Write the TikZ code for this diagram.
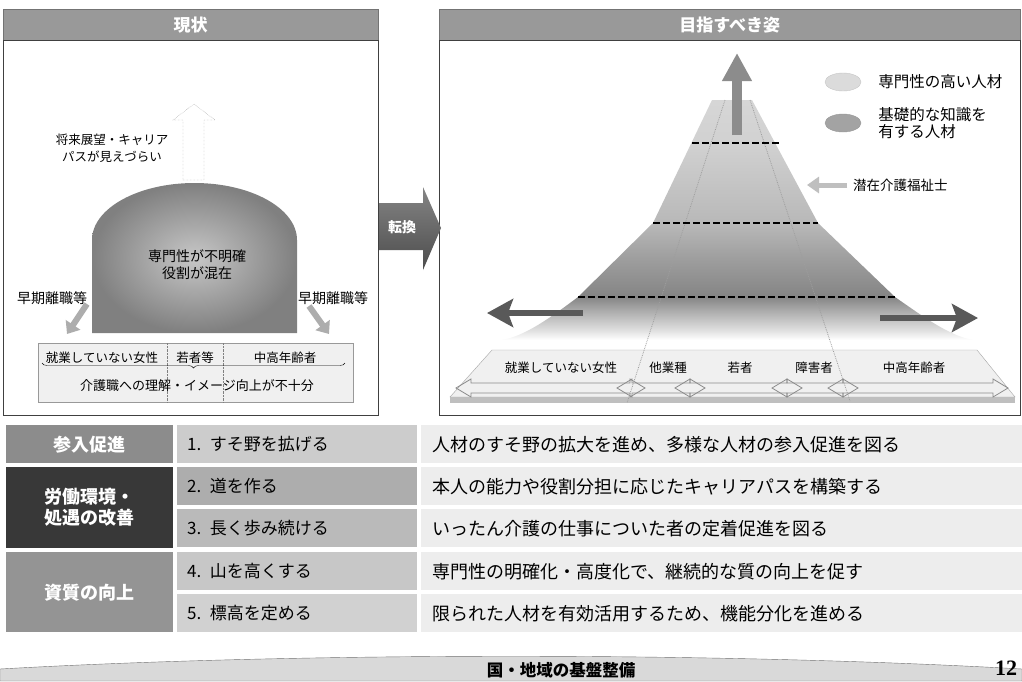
\documentclass[tikz,border=0pt]{standalone}
\usepackage{fontspec}
\setmainfont{Noto Sans CJK JP}
\newfontfamily\pagenumfont{Liberation Serif}
\usetikzlibrary{positioning,shapes.geometric,decorations.pathreplacing,arrows.meta}

\newcommand{\jsize}[2]{\fontsize{#1}{#2}\selectfont}

\pgfdeclareverticalshading{mountain}{100bp}{color(0bp)=(white); color(25bp)=(white); color(27bp)=(black!12); color(31bp)=(black!32); color(34bp)=(black!48); color(42bp)=(black!38); color(49bp)=(black!28); color(66bp)=(black!18); color(75bp)=(black!16); color(100bp)=(black!16)}

\begin{document}
\begin{tikzpicture}[x=1pt,y=-1pt,
  headbar/.style={draw=black!55,fill=black!40,text=white,inner sep=0,font=\jsize{17}{17}\bfseries},
  panel/.style={draw=black!75,line width=1},
  txt/.style={inner sep=0,font=\jsize{12.5}{17}},
  bigtxt/.style={inner sep=0,align=center,font=\jsize{14}{17}},
  quitarrow/.style={line width=6,black!32,-{Triangle[length=11,width=17]}},
  dashline/.style={line width=2.2,dash pattern=on 7 off 3},
  lane/.style={black!38,densely dotted,line width=0.8},
  lanearrow/.style={draw=black!45,line width=0.8},
  catcell/.style={anchor=north west,inner sep=0,minimum width=167,text=white,align=center,font=\jsize{18}{21}\bfseries},
  itemcell/.style={anchor=north west,inner xsep=10,inner ysep=0,text width=220,minimum height=38,align=left,font=\jsize{17}{17}},
  aimtxt/.style={anchor=west,inner sep=0,font=\jsize{18}{18}}
]
\useasboundingbox (0,0) rectangle (1022,681);
\fill[white] (0,0) rectangle (1022,681);

\node[headbar,minimum width=375,minimum height=31,anchor=north west] (nowhead) at (3,9) {現状};
\node[headbar,minimum width=581,minimum height=31,anchor=north west] (goalhead) at (439,9) {目指すべき姿};
\draw[panel] (3,40) rectangle (378,415);
\draw[panel] (439,40) rectangle (1020,415);

\draw[densely dotted,black!45,fill=white] (183,180) -- (183,120) -- (173,120) -- (194,104) -- (215,120) -- (204,120) -- (204,180) -- cycle;
\node[txt,align=center] (vision) at (112,148) {将来展望・キャリア\\パスが見えづらい};

\shade[inner color=black!22,outer color=black!50] (92,240) .. controls (92,208.5) and (137.9,183) .. (194.5,183) .. controls (251.1,183) and (297,208.5) .. (297,240) -- (297,333) -- (92,333) -- cycle;
\node[bigtxt] (dome) at (197,265) {専門性が不明確\\役割が混在};

\node[txt,font=\jsize{14}{14}] (quitl) at (52,298) {早期離職等};
\node[txt,font=\jsize{14}{14}] (quitr) at (333,298) {早期離職等};
\draw[quitarrow] (87,304) -- (67,334);
\draw[quitarrow] (309,306) -- (329,334);

\draw[draw=black!40,fill=black!6] (38,343) rectangle (353,402);
\draw[densely dotted,black!50] (167,343) -- (167,402) (223,343) -- (223,402);
\node[txt] (women) at (102,358) {就業していない女性};
\node[txt] (youth) at (195,358) {若者等};
\node[txt] (senior) at (285,358) {中高年齢者};
\draw[decorate,decoration={brace,amplitude=5}] (345,363) -- (42,363);
\node[txt,font=\jsize{13}{13}] (image) at (197,386) {介護職への理解・イメージ向上が不十分};

\shade[top color=black!48,bottom color=black!70] (379,203) -- (423,203) -- (423,187) -- (441,228) -- (423,270) -- (423,250) -- (379,250) -- cycle;
\node[inner sep=0,text=white,font=\jsize{14}{14}\bfseries] (shift) at (402,227) {転換};

\shade[shading=mountain] (712,100) -- (752,100) -- (818,223) -- (895,297) .. controls (925,318) and (950,336) .. (973,340) -- (502,340) .. controls (525,336) and (550,318) .. (578,297) -- (653,223) -- cycle;

\draw[draw=black!35,fill=black!6] (492,350) -- (977,350) -- (1015,397) -- (450,397) -- cycle;
\fill[black!25] (450,397) -- (1015,397) -- (1015,403) -- (450,403) -- cycle;
\foreach \a/\b in {456/645,617/705,675/802,772/858,828/1008}
  \draw[lanearrow] (\a,388) -- ({\a+15},379) -- ({\a+15},383) -- ({\b-15},383) -- ({\b-15},379) -- (\b,388) -- ({\b-15},397) -- ({\b-15},393) -- ({\a+15},393) -- ({\a+15},397) -- cycle;

\draw[lane] (725,100) -- (627,403);
\draw[lane] (750,100) -- (850,401);

\draw[dashline] (692,143) -- (779,143);
\draw[dashline] (653,223) -- (818,223);
\draw[dashline] (578,297) -- (895,297);

\draw[line width=10,black!45,-{Triangle[length=28,width=28]}] (737,135) -- (737,53);
\draw[line width=6,black!65,-{Stealth[length=26,width=28,inset=5]}] (583,313) -- (487,313);
\draw[line width=6,black!65,-{Stealth[length=26,width=28,inset=5]}] (880,318) -- (978,318);

\node[anchor=west,inner sep=0,font=\jsize{13.5}{13.5}] (potential) at (853,185) {潜在介護福祉士};
\draw[line width=5,black!25,-{Triangle[length=12,width=16]}] ([xshift=-6pt]potential.west) -- ++(-40,0);

\node[ellipse,fill=black!14,draw=black!22,minimum width=36,minimum height=18,inner sep=0] (keyhigh) at (843,82) {};
\node[ellipse,fill=black!36,draw=black!40,minimum width=36,minimum height=18,inner sep=0] (keybase) at (843,123) {};
\node[right=17pt of keyhigh,inner sep=0,font=\jsize{15.5}{15.5}] (keyhightxt) {専門性の高い人材};
\node[right=17pt of keybase,inner sep=0,align=left,font=\jsize{15.5}{17}] (keybasetxt) {基礎的な知識を\\有する人材};

\node[txt] (sw) at (561,368) {就業していない女性};
\node[txt] (sother) at (668,368) {他業種};
\node[txt] (syouth) at (740,368) {若者};
\node[txt] (sdis) at (814,368) {障害者};
\node[txt] (ssenior) at (914,368) {中高年齢者};

\node[catcell,fill=black!45,minimum height=38] (join) at (6,425) {参入促進};
\node[catcell,fill=black!78,minimum height=81] (work) at (6,467) {労働環境・\\処遇の改善};
\node[catcell,fill=black!42,minimum height=80] (quality) at (6,552) {資質の向上};

\foreach \y in {425,467,509,552,594}
  \fill[black!7] (421,\y) rectangle (1022,{\y+38});
\node[itemcell,fill=black!20] (i1) at (177,425) {1. すそ野を拡げる};
\node[itemcell,fill=black!32] (i2) at (177,467) {2. 道を作る};
\node[itemcell,fill=black!27] (i3) at (177,509) {3. 長く歩み続ける};
\node[itemcell,fill=black!22] (i4) at (177,552) {4. 山を高くする};
\node[itemcell,fill=black!18] (i5) at (177,594) {5. 標高を定める};
\node[aimtxt,right=15pt of i1] (a1) {人材のすそ野の拡大を進め、多様な人材の参入促進を図る};
\node[aimtxt,right=15pt of i2] (a2) {本人の能力や役割分担に応じたキャリアパスを構築する};
\node[aimtxt,right=15pt of i3] (a3) {いったん介護の仕事についた者の定着促進を図る};
\node[aimtxt,right=15pt of i4] (a4) {専門性の明確化・高度化で、継続的な質の向上を促す};
\node[aimtxt,right=15pt of i5] (a5) {限られた人材を有効活用するため、機能分化を進める};

\draw[draw=black!55,fill=black!15] (0,669) .. controls (300,652) and (722,652) .. (1022,669) -- (1022,681) -- (0,681) -- cycle;
\node[inner sep=0,font=\jsize{16.5}{16.5}\bfseries] (base) at (561,670) {国・地域の基盤整備};
\node[inner sep=0,font=\pagenumfont\bfseries\jsize{22}{22}] (pageno) at (1006,668) {12};
\end{tikzpicture}
\end{document}
